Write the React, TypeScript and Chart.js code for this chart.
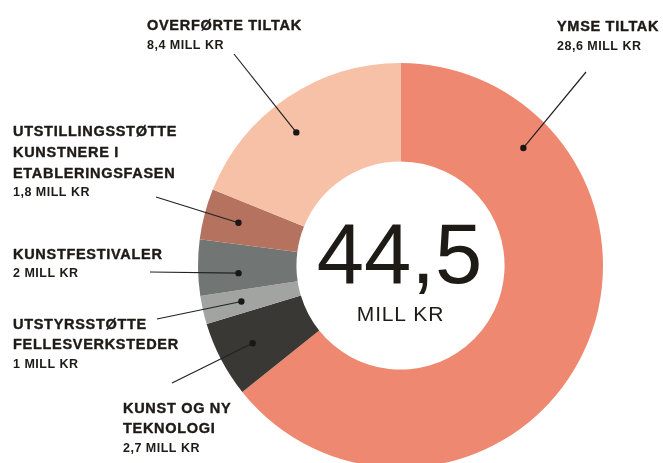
import React, { useEffect, useRef } from "react";
import { Chart, registerables } from "chart.js";

Chart.register(...registerables);

// ---- data ----
const categories: string[][] = [
  ["YMSE TILTAK"],
  ["KUNST OG NY", "TEKNOLOGI"],
  ["UTSTYRSSTØTTE", "FELLESVERKSTEDER"],
  ["KUNSTFESTIVALER"],
  ["UTSTILLINGSSTØTTE", "KUNSTNERE I", "ETABLERINGSFASEN"],
  ["OVERFØRTE TILTAK"],
];
const values: number[] = [28.6, 2.7, 1, 2, 1.8, 8.4];
const unit = "MILL KR";
const colors: string[] = ["#EE8870", "#3A3835", "#A2A4A1", "#717573", "#B4725F", "#F7C1A8"];

// ---- annotation layout (label anchor, leader-line start, dot position within slice) ----
const labelPos: { x: number; y: number; lx: number; ly: number; frac: number; rf: number }[] = [
  { x: 557, y: 31, lx: 586, ly: 72, frac: 0.2, rf: 0.67 },
  { x: 123, y: 412.5, lx: 172, ly: 383, frac: 0.5, rf: 0.64 },
  { x: 13, y: 328.5, lx: 157, ly: 319, frac: 0.5, rf: 0.6 },
  { x: 13, y: 258.5, lx: 150, ly: 272, frac: 0.37, rf: 0.59 },
  { x: 13, y: 136, lx: 156, ly: 197, frac: 0.5, rf: 0.645 },
  { x: 147, y: 30, lx: 234, ly: 54, frac: 0.44, rf: 0.66 },
];

const fmt = (v: number) => String(v).replace(".", ",");
const TEXT = "#1E1A16";

const annotPlugin = {
  id: "annot",
  afterDraw(chart: any) {
    const ctx = chart.ctx as CanvasRenderingContext2D;
    const meta = chart.getDatasetMeta(0);
    ctx.save();
    let cx = 0, cy = 0;
    meta.data.forEach((arc: any, i: number) => {
      const p = arc.getProps(["x", "y", "startAngle", "endAngle", "innerRadius", "outerRadius"], true);
      cx = p.x; cy = p.y;
      const L = labelPos[i];
      const a = p.startAngle + (p.endAngle - p.startAngle) * L.frac;
      const r = p.innerRadius + (p.outerRadius - p.innerRadius) * L.rf;
      const dx = p.x + Math.cos(a) * r;
      const dy = p.y + Math.sin(a) * r;
      ctx.strokeStyle = "#222";
      ctx.lineWidth = 1.2;
      ctx.beginPath();
      ctx.moveTo(L.lx, L.ly);
      ctx.lineTo(dx, dy);
      ctx.stroke();
      ctx.fillStyle = "#1a1816";
      ctx.beginPath();
      ctx.arc(dx, dy, 3.2, 0, Math.PI * 2);
      ctx.fill();

      // text
      ctx.fillStyle = TEXT;
      ctx.strokeStyle = TEXT;
      ctx.lineWidth = 0.4;
      ctx.lineJoin = "round";
      ctx.textAlign = "left";
      ctx.textBaseline = "alphabetic";
      (ctx as any).letterSpacing = "0.7px";
      ctx.font = "bold 14.5px 'Liberation Sans', Arial, sans-serif";
      const lines = categories[i];
      let y = L.y;
      lines.forEach((ln, k) => {
        ctx.fillText(ln, L.x, y);
        ctx.strokeText(ln, L.x, y);
        if (k < lines.length - 1) y += 20.8;
      });
      y += 18.5;
      (ctx as any).letterSpacing = "0.5px";
      ctx.font = "bold 12.5px 'Liberation Sans', Arial, sans-serif";
      ctx.fillText(fmt(values[i]) + " " + unit, L.x, y);
    });

    // center total
    const total = values.reduce((s, v) => s + v, 0);
    ctx.fillStyle = TEXT;
    ctx.textAlign = "center";
    (ctx as any).letterSpacing = "0px";
    ctx.font = "85px 'Liberation Sans', Arial, sans-serif";
    ctx.fillText(total.toFixed(1).replace(".", ","), cx - 1, cy + 17.5);
    (ctx as any).letterSpacing = "0.8px";
    ctx.font = "21px 'Liberation Sans', Arial, sans-serif";
    ctx.fillText(unit, cx, cy + 55);
    ctx.restore();
  },
};

export default function App() {
  const ref = useRef<HTMLCanvasElement | null>(null);
  useEffect(() => {
    if (!ref.current) return;
    const chart = new Chart(ref.current, {
      type: "doughnut",
      data: {
        labels: categories.map((c) => c.join(" ")),
        datasets: [
          {
            data: values,
            backgroundColor: colors,
            borderWidth: 0,
            hoverOffset: 0,
            offset: 0,
          },
        ],
      },
      options: {
        responsive: false,
        animation: false,
        cutout: "51.4%",
        layout: { padding: { left: 198, right: 60, top: 63, bottom: 12 } },
        plugins: { legend: { display: false }, tooltip: { enabled: false } },
      },
      plugins: [annotPlugin],
    });
    return () => chart.destroy();
  }, []);
  return (
    <div style={{ position: "absolute", left: 0, top: 0, width: 663, height: 463, overflow: "hidden", background: "#fff" }}>
      <canvas ref={ref} width={663} height={480} style={{ display: "block" }} />
    </div>
  );
}
